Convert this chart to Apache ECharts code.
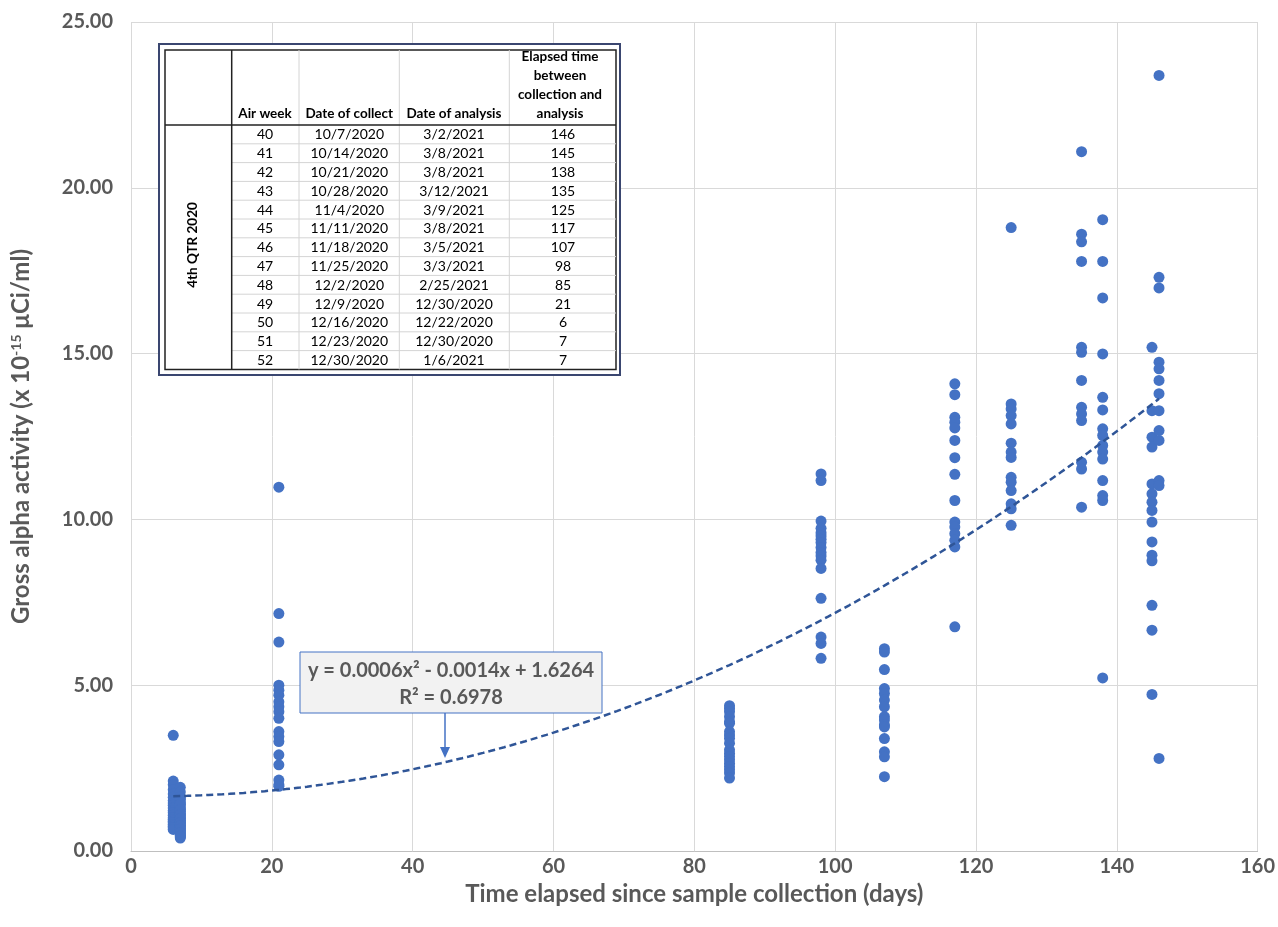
<!DOCTYPE html>
<html>
<head>
<meta charset="utf-8">
<script src="https://cdn.jsdelivr.net/npm/echarts@6/dist/echarts.min.js"></script>
<style>html,body{margin:0;padding:0;background:#fff}#c{width:1278px;height:927px}</style>
</head>
<body>
<div id="c"></div>
<script>
// ---- Data ----
const xTicks = [0, 20, 40, 60, 80, 100, 120, 140, 160];
const yTicks = [0, 5, 10, 15, 20, 25];

const pts6   = [3.49, 2.11, 2.0, 1.85, 1.72, 1.62, 1.52, 1.45, 1.38, 1.3, 1.22, 1.15, 1.08, 1.0, 0.95, 0.9, 0.85, 0.8, 0.75, 0.7, 0.65];
const pts7   = [1.92, 1.78, 1.65, 1.55, 1.48, 1.4, 1.33, 1.27, 1.2, 1.14, 1.08, 1.02, 0.97, 0.92, 0.88, 0.83, 0.78, 0.73, 0.68, 0.63, 0.58, 0.52, 0.47, 0.42, 0.39,
                1.6, 1.42, 1.25, 1.1, 0.98, 0.86, 0.76, 0.66, 0.55, 0.45];
const pts21  = [10.97, 7.16, 6.30, 5.0, 4.85, 4.7, 4.5, 4.35, 4.2, 4.0, 3.6, 3.45, 3.3, 2.9, 2.6, 2.14, 2.0, 1.95];
const pts85  = [4.38, 4.3, 4.2, 4.05, 3.9, 3.85, 3.6, 3.5, 3.4, 3.25, 3.05, 2.95, 2.85, 2.75, 2.65, 2.55, 2.45, 2.35, 2.2];
const pts98  = [11.37, 11.17, 9.95, 9.73, 9.6, 9.5, 9.4, 9.3, 9.15, 9.0, 8.9, 8.77, 8.52, 7.62, 6.45, 6.26, 5.81];
const pts107 = [6.10, 6.0, 5.47, 4.90, 4.75, 4.55, 4.35, 4.05, 3.95, 3.8, 3.74, 3.39, 2.99, 2.84, 2.24];
const pts117 = [14.09, 13.76, 13.08, 12.93, 12.76, 12.38, 11.86, 11.36, 10.57, 9.92, 9.77, 9.57, 9.37, 9.17, 6.76];
const pts125 = [18.8, 13.48, 13.33, 13.13, 12.88, 12.30, 12.03, 11.87, 11.27, 11.12, 10.87, 10.47, 10.32, 9.82];
const pts135 = [21.09, 18.60, 18.37, 17.78, 15.19, 15.04, 14.19, 13.38, 13.18, 12.98, 11.72, 11.52, 10.37];
const pts138 = [19.04, 17.78, 16.68, 14.99, 13.68, 13.30, 12.73, 12.53, 12.23, 12.03, 11.82, 11.17, 10.72, 10.57, 5.22];
const pts145 = [15.19, 13.28, 12.48, 12.18, 11.07, 10.77, 10.52, 10.27, 9.92, 9.32, 8.92, 8.75, 7.41, 6.66, 4.72];
const pts146 = [23.39, 17.30, 16.98, 14.74, 14.54, 14.19, 13.79, 13.28, 12.68, 12.38, 11.17, 11.02, 2.79];

const groups = [[6, pts6], [7, pts7], [21, pts21], [85, pts85], [98, pts98], [107, pts107],
                [117, pts117], [125, pts125], [135, pts135], [138, pts138], [145, pts145], [146, pts146]];

// Table content
const tblAirWeek  = ['40','41','42','43','44','45','46','47','48','49','50','51','52'];
const tblCollect  = ['10/7/2020','10/14/2020','10/21/2020','10/28/2020','11/4/2020','11/11/2020','11/18/2020','11/25/2020','12/2/2020','12/9/2020','12/16/2020','12/23/2020','12/30/2020'];
const tblAnalysis = ['3/2/2021','3/8/2021','3/8/2021','3/12/2021','3/9/2021','3/8/2021','3/5/2021','3/3/2021','2/25/2021','12/30/2020','12/22/2020','12/30/2020','1/6/2021'];
const tblElapsed  = ['146','145','138','135','125','117','107','98','85','21','6','7','7'];
const tblHeaders  = ['Air week', 'Date of collect', 'Date of analysis', 'Elapsed time\nbetween\ncollection and\nanalysis'];
const tblGroup    = '4th QTR 2020';
const eqLine1 = 'y = 0.0006x² - 0.0014x + 1.6264';
const eqLine2 = 'R² = 0.6978';

// ---- Build scatter data ----
const scatter = [];
groups.forEach(([d, arr]) => arr.forEach(v => scatter.push([d, v])));

// quadratic least squares trend (polynomial order 2, like the spreadsheet trendline)
function fitQuad(pts) {
  let S = [0,0,0,0,0], T = [0,0,0];
  pts.forEach(([x, y]) => {
    for (let k = 0; k < 5; k++) S[k] += Math.pow(x, k);
    for (let k = 0; k < 3; k++) T[k] += Math.pow(x, k) * y;
  });
  const M = [[S[0],S[1],S[2],T[0]],[S[1],S[2],S[3],T[1]],[S[2],S[3],S[4],T[2]]];
  for (let i = 0; i < 3; i++) {
    for (let j = i + 1; j < 3; j++) {
      const f = M[j][i] / M[i][i];
      for (let k = i; k < 4; k++) M[j][k] -= f * M[i][k];
    }
  }
  const r = [0,0,0];
  for (let i = 2; i >= 0; i--) {
    let s = M[i][3];
    for (let k = i + 1; k < 3; k++) s -= M[i][k] * r[k];
    r[i] = s / M[i][i];
  }
  return r; // c, b, a
}
const coef = fitQuad(scatter);
const xs = scatter.map(p => p[0]);
const xMinD = Math.min(...xs), xMaxD = Math.max(...xs);
const trend = [];
for (let x = xMinD; x <= xMaxD; x += 1) trend.push([x, coef[0] + coef[1]*x + coef[2]*x*x]);

// ---- Graphic: table + annotation ----
const FONT = 'Lato, "Open Sans", sans-serif';
const g = [];
const tL = 165, tR = 616, tT = 50, hB = 125, rowH = 18.8;
const colX = [tL, 231.7, 299, 399.3, 509.3, tR];
const tB = hB + rowH * tblAirWeek.length;
g.push({type:'rect', shape:{x:159, y:44, width:461, height:331}, style:{fill:'#fff', stroke:'#3a4670', lineWidth:2}, z:100});
g.push({type:'rect', shape:{x:tL, y:tT, width:tR-tL, height:tB-tT}, style:{fill:'#fff', stroke:'#222', lineWidth:1.5}, z:101});
for (let i = 1; i <= tblAirWeek.length - 1; i++) {
  const y = hB + i * rowH;
  g.push({type:'line', shape:{x1:colX[1], y1:y, x2:tR, y2:y}, style:{stroke:'#d4d4d4', lineWidth:1}, z:102});
}
[2,3,4].forEach(i => g.push({type:'line', shape:{x1:colX[i], y1:tT, x2:colX[i], y2:tB}, style:{stroke:'#d4d4d4', lineWidth:1}, z:102}));
g.push({type:'line', shape:{x1:colX[1], y1:tT, x2:colX[1], y2:tB}, style:{stroke:'#222', lineWidth:1.5}, z:103});
g.push({type:'line', shape:{x1:tL, y1:hB, x2:tR, y2:hB}, style:{stroke:'#222', lineWidth:1.5}, z:103});
// headers
const hCenters = [265, 349.3, 454, 560];
tblHeaders.forEach((h, i) => {
  g.push({type:'text', x:hCenters[i], y:hB - 2, style:{text:h, font:'bold 13.5px ' + FONT, fill:'#000', align:'center', verticalAlign:'bottom', lineHeight:19}, z:104});
});
const cols = [tblAirWeek, tblCollect, tblAnalysis, tblElapsed];
const dCenters = [265, 349.3, 454, 563];
cols.forEach((col, ci) => col.forEach((t, ri) => {
  g.push({type:'text', x:dCenters[ci], y:hB + (ri + 0.5) * rowH + 0.5, style:{text:t, font:'14px ' + FONT, fill:'#000', align:'center', verticalAlign:'middle'}, z:104});
}));
g.push({type:'text', x:193, y:245, rotation:Math.PI/2, style:{text:tblGroup, font:'bold 13.5px ' + FONT, fill:'#000', align:'center', verticalAlign:'middle'}, z:104});

// annotation
g.push({type:'rect', shape:{x:300, y:652, width:302, height:61}, style:{fill:'#f2f2f2', stroke:'#4472c4', lineWidth:1}, z:100});
g.push({type:'text', x:451, y:671, style:{text:eqLine1, font:'bold 20px ' + FONT, fill:'#595959', align:'center', verticalAlign:'middle'}, z:101});
g.push({type:'text', x:451, y:698, style:{text:eqLine2, font:'bold 20px ' + FONT, fill:'#595959', align:'center', verticalAlign:'middle'}, z:101});
g.push({type:'line', shape:{x1:445, y1:713, x2:445, y2:750}, style:{stroke:'#4472c4', lineWidth:1.5}, z:101});
g.push({type:'polygon', shape:{points:[[440,747],[450,747],[445,758]]}, style:{fill:'#4472c4'}, z:101});

const chart = echarts.init(document.getElementById('c'), null, {renderer:'canvas'});
chart.setOption({
  animation: false,
  backgroundColor: '#fff',
  grid: {left:131, right:16, top:22, bottom:76, containLabel:false},
  xAxis: {
    type:'value', min:xTicks[0], max:xTicks[xTicks.length-1], interval:xTicks[1]-xTicks[0],
    axisLine:{show:true, lineStyle:{color:'#bfbfbf', width:1}},
    axisTick:{show:false},
    splitLine:{show:true, lineStyle:{color:'#d9d9d9', width:1}},
    axisLabel:{color:'#595959', fontFamily:FONT, fontWeight:'bold', fontSize:20, margin:6},
    name:'Time elapsed since sample collection (days)', nameLocation:'middle', nameGap:22,
    nameTextStyle:{color:'#595959', fontFamily:FONT, fontWeight:'bold', fontSize:24, verticalAlign:'top'}
  },
  yAxis: {
    type:'value', min:yTicks[0], max:yTicks[yTicks.length-1], interval:yTicks[1]-yTicks[0],
    axisLine:{show:false}, axisTick:{show:false},
    splitLine:{show:true, lineStyle:{color:'#d9d9d9', width:1}},
    axisLabel:{color:'#595959', fontFamily:FONT, fontWeight:'bold', fontSize:20, margin:18, formatter: v => v.toFixed(2)},
    name:'{a|Gross alpha activity (x 10}{s|-15}{a| μCi/ml)}', nameLocation:'middle', nameGap:97,
    nameTextStyle:{rich:{
      a:{color:'#595959', fontFamily:FONT, fontWeight:'bold', fontSize:24},
      s:{color:'#595959', fontFamily:FONT, fontWeight:'bold', fontSize:14, verticalAlign:'bottom', padding:[0,0,11,0]}
    }}
  },
  series: [
    {type:'scatter', data:scatter, symbol:'circle', symbolSize:11, itemStyle:{color:'#4472c4', opacity:1}, z:3},
    {type:'line', data:trend, showSymbol:false, smooth:false, lineStyle:{color:'#2f5597', width:2.5, type:[7,4]}, z:4}
  ],
  graphic: g
});
</script>
</body>
</html>
